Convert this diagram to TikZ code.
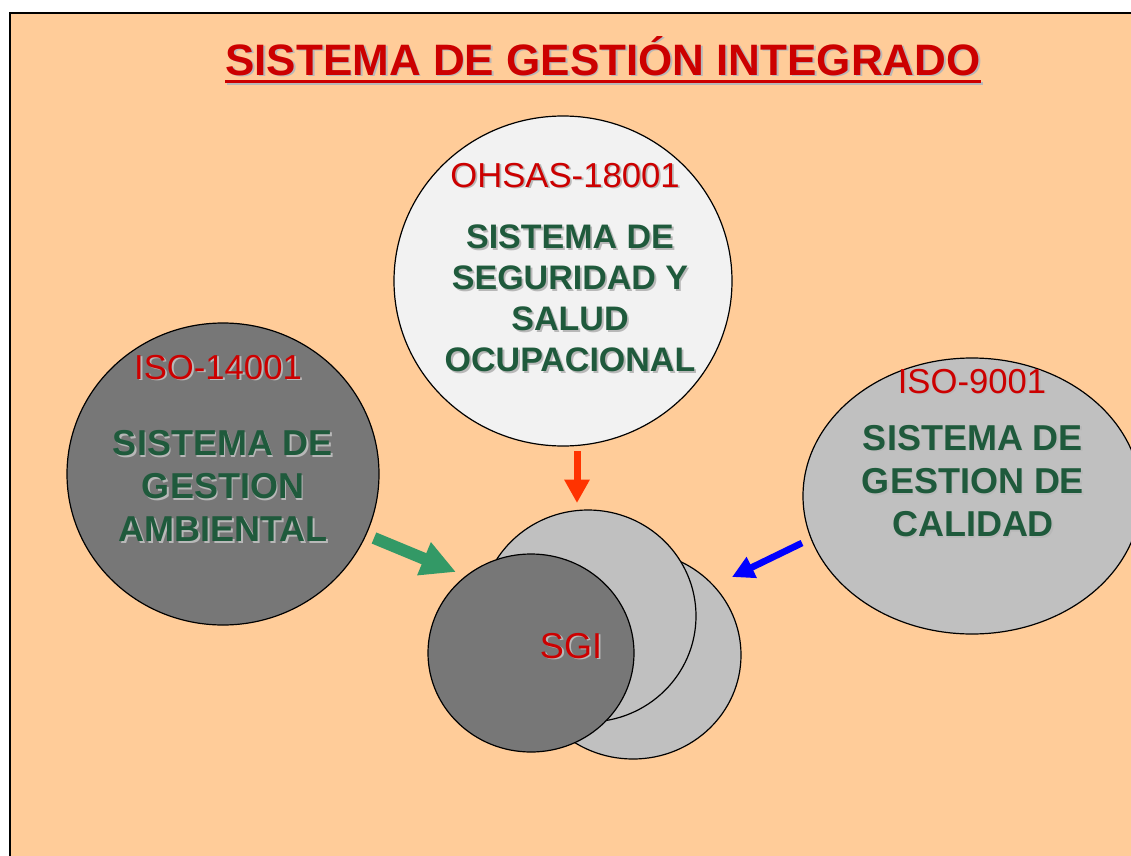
\documentclass[tikz,border=0pt]{standalone}
\usepackage{fontspec}
\setmainfont{Liberation Sans}
\usetikzlibrary{shapes.geometric, arrows.meta, positioning}
\definecolor{melocoton}{HTML}{FFCC99}
\definecolor{rojotexto}{HTML}{CC0000}
\definecolor{verdetexto}{HTML}{1F5A3C}
\definecolor{grisoscuro}{HTML}{777777}
\definecolor{grisclaro}{HTML}{C0C0C0}
\definecolor{blancohumo}{HTML}{F2F2F2}
\definecolor{sombragris}{HTML}{B8B8B8}
\definecolor{flecharoja}{HTML}{FF3300}
\definecolor{flechaverde}{HTML}{339966}
\definecolor{flechaazul}{HTML}{0000FF}
% texto con sombra desplazada
\newcommand{\sombra}[1]{\leavevmode\rlap{\kern1.4pt\raisebox{-1.4pt}{\textcolor{sombragris}{#1}}}#1}

\begin{document}
\begin{tikzpicture}[
        x=0.75pt, y=-0.75pt,
        circulo/.style={draw, ellipse, line width=0.9pt, inner sep=0pt},
        titulo/.style={text=rojotexto, inner sep=0pt, anchor=base, font=\bfseries\fontsize{33pt}{38pt}\selectfont},
        norma/.style={text=rojotexto, inner sep=0pt, anchor=base, font=\fontsize{26pt}{30pt}\selectfont},
        sistema/.style={text=verdetexto, inner sep=0pt, align=center, font=\bfseries\fontsize{27pt}{32.5pt}\selectfont},
        flecha/.style={line cap=butt}
    ]
        \useasboundingbox (0,0) rectangle (1131,856);
        \fill[white] (0,0) rectangle (1131,856);
        \fill[melocoton] (10,13) rectangle (1131,856);
        \draw[line width=1.6pt] (1131,13) -- (10,13) -- (10,856);

        % titulo
        \node[titulo] (titulo) at (603,75) {\sombra{SISTEMA DE GESTIÓN INTEGRADO}};
        \draw[sombragris, line width=2.6pt] ([shift={(1.5pt,-6.3pt)}]titulo.base west) -- ([shift={(1.5pt,-6.3pt)}]titulo.base east);
        \draw[rojotexto, line width=2.6pt] ([yshift=-4.9pt]titulo.base west) -- ([yshift=-4.9pt]titulo.base east);

        % sistemas
        \node[circulo, fill=blancohumo, minimum width=253.5pt, minimum height=247.5pt] (ohsas) at (563,281) {};
        \node[circulo, fill=grisoscuro, minimum width=234pt, minimum height=226.5pt] (ambiental) at (223,474) {};
        \node[circulo, fill=grisclaro, minimum width=253.5pt, minimum height=207pt] (calidad) at (972,496) {};

        \node[norma] (nohsas) at (565,187) {\sombra{OHSAS-18001}};
        \node[sistema, font=\bfseries\fontsize{25.5pt}{30.75pt}\selectfont] (sohsas) at (570,299) {\sombra{SISTEMA DE}\\\sombra{SEGURIDAD Y}\\\sombra{SALUD}\\\sombra{OCUPACIONAL}};
        \node[norma] (namb) at (218,379) {\sombra{ISO-14001}};
        \node[sistema] (samb) at (223,487) {\sombra{SISTEMA DE}\\\sombra{GESTION}\\\sombra{AMBIENTAL}};
        \node[norma] (ncal) at (972,393) {\sombra{ISO-9001}};
        \node[sistema] (scal) at (973,482) {\sombra{SISTEMA DE}\\\sombra{GESTION DE}\\\sombra{CALIDAD}};

        % SGI
        \node[circulo, fill=grisclaro, minimum width=162pt, minimum height=156pt] (sgiatras) at (633,655) {};
        \node[circulo, fill=grisclaro, minimum width=162pt, minimum height=159pt] (sgimedio) at (588,616) {};
        \node[circulo, fill=grisoscuro, minimum width=154.5pt, minimum height=148.5pt] (sgi) at (531,653) {};
        \node[norma, font=\fontsize{27pt}{30pt}\selectfont] (nsgi) at (571,658) {\sombra{SGI}};

        % flechas
        \coordinate (rojoA) at (577,451);
        \coordinate (rojoB) at (577,503);
        \coordinate (verdeA) at (374,538);
        \coordinate (verdeB) at (456,572);
        \coordinate (azulA) at (802,543);
        \coordinate (azulB) at (732,577);
        \draw[flecha, flecharoja, line width=5.25pt, -{Triangle[width=18pt, length=17.5pt]}] (rojoA) -- (rojoB);
        \draw[flecha, flechaverde, line width=9pt, -{Triangle[width=25pt, length=26pt]}] (verdeA) -- (verdeB);
        \draw[flecha, flechaazul, line width=5pt, -{Triangle[width=16.5pt, length=16.5pt]}] (azulA) -- (azulB);
    \end{tikzpicture}
\end{document}
